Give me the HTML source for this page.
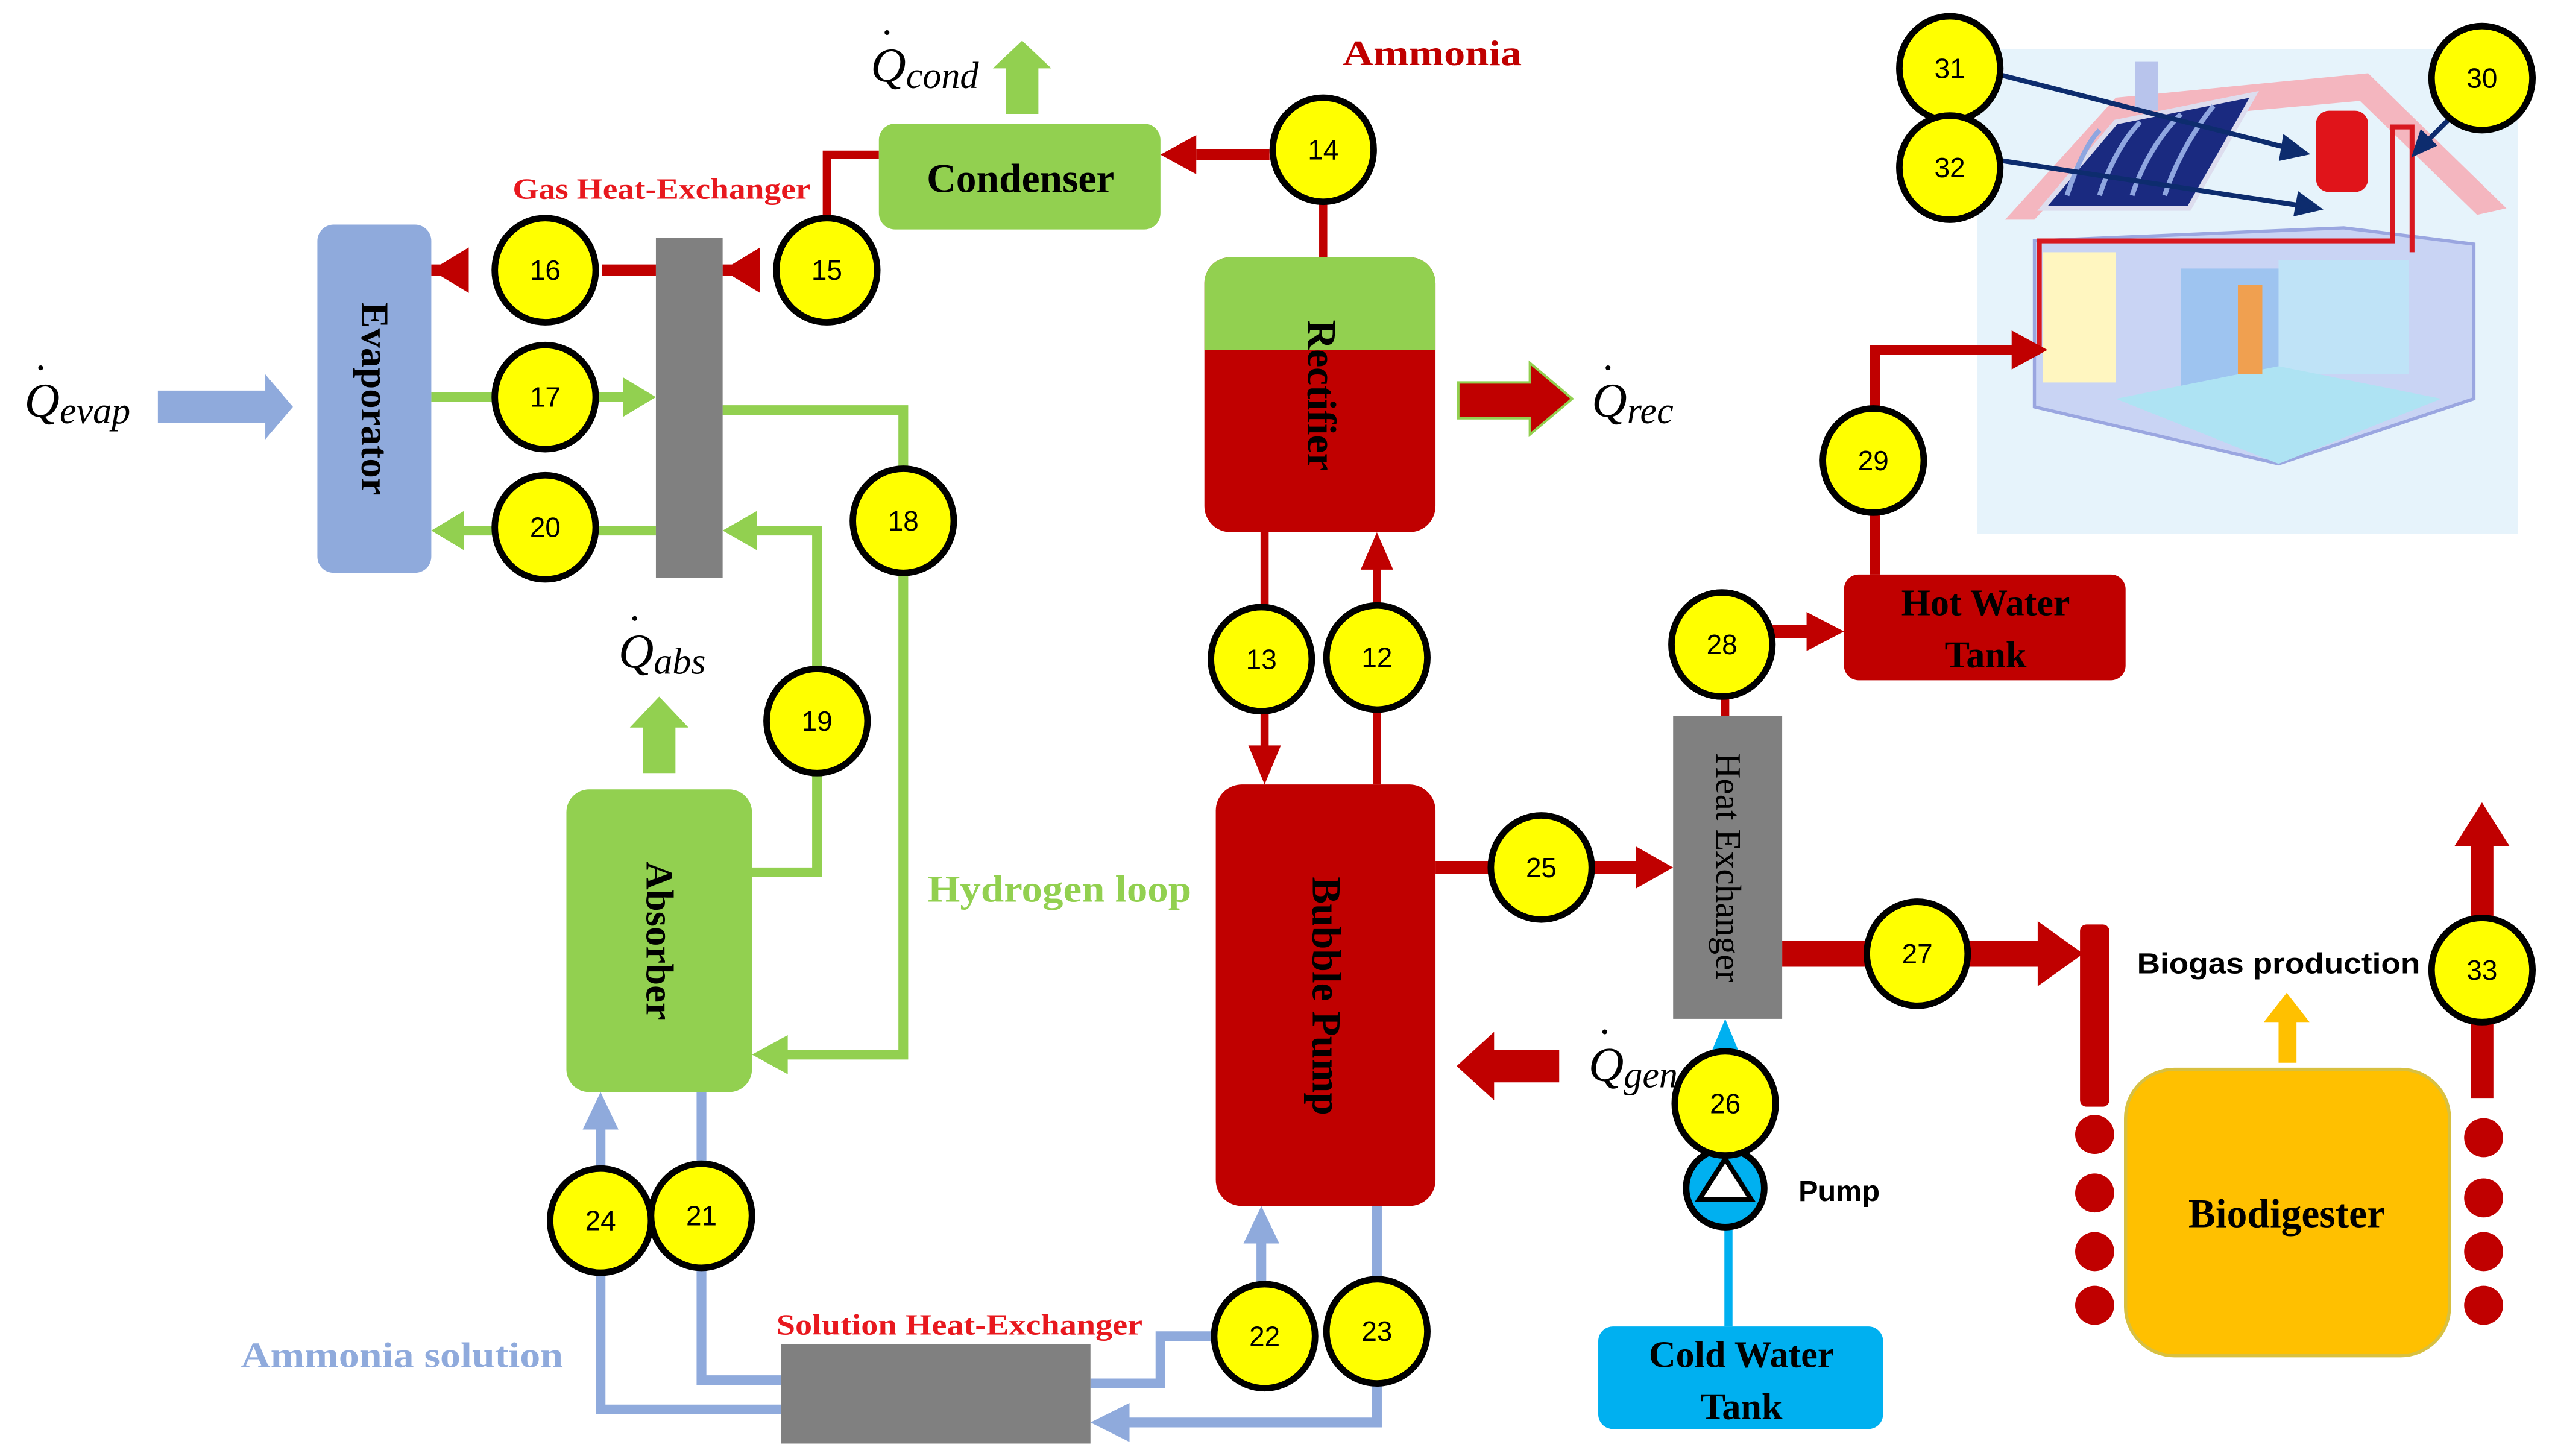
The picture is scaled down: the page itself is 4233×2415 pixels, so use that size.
<!DOCTYPE html>
<html><head><meta charset="utf-8"><style>
html,body{margin:0;padding:0;background:#fff}
svg{display:block}
.t{font-family:"Liberation Serif",serif}
.s{font-family:"Liberation Sans",sans-serif}
.n{font-family:"Liberation Sans",sans-serif;font-size:17px;text-anchor:middle;dominant-baseline:central}
</style></head><body>
<svg width="4233" height="2415" viewBox="0 0 1568 894.6" preserveAspectRatio="none" xmlns="http://www.w3.org/2000/svg">
<rect width="1568" height="895" fill="#fff"/>

<!-- House image -->
<rect x="1215" y="30" width="332" height="298" fill="#e6f3fb"/>
<polygon points="1232,135 1300,60 1455,45 1540,128 1522,132 1450,62 1305,75 1250,135" fill="#f4b6bf"/>
<rect x="1312" y="38" width="14" height="30" fill="#b8c4ec"/>
<polygon points="1255,128 1300,75 1385,58 1345,128" fill="#1a2a80" stroke="#dde" stroke-width="3"/>
<g stroke="#8fa6e0" stroke-width="3" fill="none"><path d="M1270,120 q10,-30 20,-40 M1290,120 q10,-30 25,-45 M1310,120 q10,-30 30,-50 M1330,120 q10,-30 30,-55"/></g>
<polygon points="1250,148 1250,250 1400,285 1520,245 1520,150 1440,140" fill="#c9d4f4" stroke="#9aa6e0" stroke-width="2"/>
<rect x="1255" y="155" width="45" height="80" fill="#fff6c0"/>
<rect x="1340" y="165" width="60" height="80" fill="#9ec4f0"/>
<rect x="1400" y="160" width="80" height="70" fill="#bfe3f7"/>
<polygon points="1300,245 1400,285 1500,245 1400,225" fill="#aee3f3"/>
<rect x="1423" y="68" width="32" height="50" rx="8" fill="#e0141a"/>
<polyline points="1253,215 1253,148 1470,148 1470,78 1482,78 1482,155" fill="none" stroke="#d81820" stroke-width="3"/>
<rect x="1375" y="175" width="15" height="55" fill="#f0a050"/>

<!-- dark blue arrows -->
<g stroke="#0d2c6e" stroke-width="3" fill="#0d2c6e">
<line x1="1225" y1="45" x2="1410" y2="92"/>
<polygon points="1416,94 1404,85 1402,97"/>
<line x1="1225" y1="98" x2="1418" y2="127"/>
<polygon points="1424,128 1413,120 1411,131"/>
<line x1="1508" y1="70" x2="1488" y2="90"/>
<polygon points="1484,94 1488,82 1495,89"/>
</g>

<!-- Title texts -->
<text x="825" y="40" class="t" font-size="22" fill="#c00000" font-weight="bold" textLength="110" lengthAdjust="spacingAndGlyphs">Ammonia</text>
<text x="315" y="122" class="t" font-size="18" fill="#e8181e" font-weight="bold" textLength="183" lengthAdjust="spacingAndGlyphs">Gas Heat-Exchanger</text>
<text x="570" y="554" class="t" font-size="23" fill="#92d050" font-weight="bold" textLength="162" lengthAdjust="spacingAndGlyphs">Hydrogen loop</text>
<text x="148" y="840" class="t" font-size="22" fill="#8faadc" font-weight="bold" textLength="198" lengthAdjust="spacingAndGlyphs">Ammonia solution</text>
<text x="477" y="820" class="t" font-size="18" fill="#e8181e" font-weight="bold" textLength="225" lengthAdjust="spacingAndGlyphs">Solution Heat-Exchanger</text>
<text x="1313" y="598" class="s" font-size="18" fill="#000" font-weight="bold" textLength="174" lengthAdjust="spacingAndGlyphs">Biogas production</text>
<text x="1105" y="738" class="s" font-size="18" fill="#000" font-weight="bold">Pump</text>

<!-- Q labels -->
<g class="t" font-style="italic" font-size="30" fill="#000">
<text x="535" y="50">Q<tspan font-size="23" dy="4">cond</tspan></text>
<text x="15" y="256">Q<tspan font-size="23" dy="4">evap</tspan></text>
<text x="380" y="410">Q<tspan font-size="23" dy="4">abs</tspan></text>
<text x="978" y="256">Q<tspan font-size="23" dy="4">rec</tspan></text>
<text x="976" y="664">Q<tspan font-size="23" dy="4">gen</tspan></text>
</g>
<g fill="#000"><circle cx="545" cy="20" r="1.5"/><circle cx="25" cy="226" r="1.5"/><circle cx="390" cy="380" r="1.5"/><circle cx="988" cy="226" r="1.5"/><circle cx="986" cy="634" r="1.5"/></g>

<!-- heat arrows -->
<polygon points="618,70 638,70 638,42 646,42 628,25 610,42 618,42" fill="#92d050"/>
<polygon points="97,240 163,240 163,230 180,250 163,270 163,260 97,260" fill="#8faadc"/>
<polygon points="395,475 415,475 415,447 423,447 405,428 387,447 395,447" fill="#92d050"/>
<polygon points="896,235 940,235 940,223 966,245 940,267 940,257 896,257" fill="#c00000" stroke="#92d050" stroke-width="1.5"/>
<polygon points="958,645 918,645 918,634 895,655 918,676 918,665 958,665" fill="#c00000"/>

<!-- red lines -->
<g stroke="#c00000" fill="none">
<line x1="780" y1="95" x2="735" y2="95" stroke-width="7"/>
<line x1="813" y1="124" x2="813" y2="160" stroke-width="5"/>
<polyline points="540,95 508,95 508,135" stroke-width="5"/>
<line x1="370" y1="166" x2="403" y2="166" stroke-width="7"/>
<line x1="444" y1="166" x2="465" y2="166" stroke-width="7"/>
<line x1="265" y1="166" x2="285" y2="166" stroke-width="7"/>
<line x1="777" y1="327" x2="777" y2="460" stroke-width="5"/>
<line x1="846" y1="482" x2="846" y2="345" stroke-width="5"/>
<line x1="882" y1="533" x2="1008" y2="533" stroke-width="8"/>
<line x1="1060" y1="440" x2="1060" y2="425" stroke-width="5"/>
<line x1="1088" y1="388" x2="1113" y2="388" stroke-width="8"/>
<polyline points="1152,353 1152,215 1238,215" stroke-width="6"/>
<line x1="1095" y1="586" x2="1255" y2="586" stroke-width="16"/>
<line x1="1525" y1="675" x2="1525" y2="520" stroke-width="14"/>
</g>
<g fill="#c00000">
<polygon points="713,95 735,83 735,107"/>
<polygon points="444,166 467,152 467,180"/>
<polygon points="265,166 288,152 288,180"/>
<polygon points="777,482 767,458 787,458"/>
<polygon points="846,327 836,350 856,350"/>
<polygon points="1028,533 1005,520 1005,546"/>
<polygon points="1133,388 1110,376 1110,400"/>
<polygon points="1258,215 1236,203 1236,227"/>
<polygon points="1280,586 1252,566 1252,606"/>
<polygon points="1525,493 1508,520 1542,520"/>
<rect x="1278" y="568" width="18" height="112" rx="4"/>
<ellipse cx="1287" cy="697" rx="12" ry="12"/><ellipse cx="1287" cy="733" rx="12" ry="12"/><ellipse cx="1287" cy="769" rx="12" ry="12"/><ellipse cx="1287" cy="802" rx="12" ry="12"/>
<ellipse cx="1526" cy="699" rx="12" ry="12"/><ellipse cx="1526" cy="736" rx="12" ry="12"/><ellipse cx="1526" cy="769" rx="12" ry="12"/><ellipse cx="1526" cy="802" rx="12" ry="12"/>
</g>
<polygon points="1400,653 1411,653 1411,628 1419,628 1405,610 1391,628 1400,628" fill="#ffc000"/>

<!-- green lines -->
<g stroke="#92d050" fill="none" stroke-width="6">
<line x1="265" y1="244" x2="305" y2="244"/>
<line x1="365" y1="244" x2="385" y2="244"/>
<polyline points="444,252 555,252 555,648 482,648"/>
<line x1="305" y1="326" x2="285" y2="326"/>
<line x1="403" y1="326" x2="365" y2="326"/>
<polyline points="502,470 502,326 465,326"/>
<polyline points="502,415 502,536 462,536"/>
</g>
<g fill="#92d050">
<polygon points="403,244 383,232 383,256"/>
<polygon points="265,326 285,314 285,338"/>
<polygon points="444,326 465,314 465,338"/>
<polygon points="462,648 484,636 484,660"/>
</g>

<!-- blue lines -->
<g stroke="#8faadc" fill="none" stroke-width="6">
<polyline points="369,720 369,692"/>
<polyline points="369,780 369,866 480,866"/>
<polyline points="431,671 431,720"/>
<polyline points="431,775 431,848 480,848"/>
<polyline points="670,850 713,850 713,821 748,821"/>
<line x1="775" y1="793" x2="775" y2="762"/>
<line x1="846" y1="741" x2="846" y2="790"/>
<polyline points="846,848 846,874 692,874"/>
</g>
<g fill="#8faadc">
<polygon points="369,671 358,694 380,694"/>
<polygon points="775,741 764,764 786,764"/>
<polygon points="670,874 694,862 694,886"/>
</g>
<line x1="1062" y1="755" x2="1062" y2="815" stroke="#00b0f0" stroke-width="5"/>
<polygon points="1060,626 1050,650 1070,650" fill="#00b0f0"/>

<!-- components -->
<rect x="540" y="76" width="173" height="65" rx="10" fill="#92d050"/>
<text x="627" y="118" class="t" font-size="25" font-weight="bold" text-anchor="middle">Condenser</text>
<rect x="195" y="138" width="70" height="214" rx="10" fill="#8faadc"/>
<text x="230" y="245" class="t" font-size="24" font-weight="bold" text-anchor="middle" dominant-baseline="central" transform="rotate(90 230 245)">Evaporator</text>
<rect x="403" y="146" width="41" height="209" fill="#808080"/>
<rect x="348" y="485" width="114" height="186" rx="14" fill="#92d050"/>
<text x="405" y="578" class="t" font-size="24" font-weight="bold" text-anchor="middle" dominant-baseline="central" transform="rotate(90 405 578)">Absorber</text>
<rect x="740" y="158" width="142" height="169" rx="16" fill="#c00000"/>
<path d="M740,215 V174 a16,16 0 0 1 16,-16 H866 a16,16 0 0 1 16,16 V215 Z" fill="#92d050"/>
<text x="812" y="243" class="t" font-size="25" font-weight="bold" text-anchor="middle" dominant-baseline="central" transform="rotate(90 812 243)">Rectifier</text>
<rect x="747" y="482" width="135" height="259" rx="16" fill="#c00000"/>
<text x="815" y="612" class="t" font-size="25" font-weight="bold" text-anchor="middle" dominant-baseline="central" transform="rotate(90 815 612)">Bubble Pump</text>
<rect x="1028" y="440" width="67" height="186" fill="#808080"/>
<text x="1062" y="533" class="t" font-size="22" text-anchor="middle" dominant-baseline="central" transform="rotate(90 1062 533)">Heat Exchanger</text>
<rect x="1133" y="353" width="173" height="65" rx="9" fill="#c00000"/>
<text x="1220" y="378" class="t" font-size="23" font-weight="bold" text-anchor="middle">Hot Water</text>
<text x="1220" y="410" class="t" font-size="23" font-weight="bold" text-anchor="middle">Tank</text>
<rect x="982" y="815" width="175" height="63" rx="9" fill="#00b0f0"/>
<text x="1070" y="840" class="t" font-size="23" font-weight="bold" text-anchor="middle">Cold Water</text>
<text x="1070" y="872" class="t" font-size="23" font-weight="bold" text-anchor="middle">Tank</text>
<rect x="1306" y="657" width="199" height="176" rx="30" fill="#ffc000" stroke="#d8c040" stroke-width="2"/>
<text x="1405" y="754" class="t" font-size="25" font-weight="bold" text-anchor="middle">Biodigester</text>
<rect x="480" y="826" width="190" height="61" fill="#808080"/>

<!-- pump -->
<circle cx="1060" cy="730" r="24" fill="#00b0f0" stroke="#000" stroke-width="4"/>
<polygon points="1060,712 1044,737 1076,737" fill="#fff" stroke="#000" stroke-width="3"/>

<!-- state circles -->
<g fill="#ffff00" stroke="#000" stroke-width="4">
<ellipse cx="813" cy="92" rx="31" ry="32"/>
<ellipse cx="335" cy="166" rx="31" ry="32"/>
<ellipse cx="508" cy="166" rx="31" ry="32"/>
<ellipse cx="335" cy="244" rx="31" ry="32"/>
<ellipse cx="335" cy="324" rx="31" ry="32"/>
<ellipse cx="555" cy="320" rx="31" ry="32"/>
<ellipse cx="502" cy="443" rx="31" ry="32"/>
<ellipse cx="775" cy="405" rx="31" ry="32"/>
<ellipse cx="846" cy="404" rx="31" ry="32"/>
<ellipse cx="947" cy="533" rx="31" ry="32"/>
<ellipse cx="1058" cy="396" rx="31" ry="32"/>
<ellipse cx="1151" cy="283" rx="31" ry="32"/>
<ellipse cx="1198" cy="42" rx="31" ry="32"/>
<ellipse cx="1198" cy="103" rx="31" ry="32"/>
<ellipse cx="1525" cy="48" rx="31" ry="32"/>
<ellipse cx="1178" cy="586" rx="31" ry="32"/>
<ellipse cx="1525" cy="596" rx="31" ry="32"/>
<ellipse cx="1060" cy="678" rx="31" ry="32"/>
<ellipse cx="369" cy="750" rx="31" ry="32"/>
<ellipse cx="431" cy="747" rx="31" ry="32"/>
<ellipse cx="777" cy="821" rx="31" ry="32"/>
<ellipse cx="846" cy="818" rx="31" ry="32"/>
</g>
<g>
<text x="813" y="92" class="n">14</text>
<text x="335" y="166" class="n">16</text>
<text x="508" y="166" class="n">15</text>
<text x="335" y="244" class="n">17</text>
<text x="335" y="324" class="n">20</text>
<text x="555" y="320" class="n">18</text>
<text x="502" y="443" class="n">19</text>
<text x="775" y="405" class="n">13</text>
<text x="846" y="404" class="n">12</text>
<text x="947" y="533" class="n">25</text>
<text x="1058" y="396" class="n">28</text>
<text x="1151" y="283" class="n">29</text>
<text x="1198" y="42" class="n">31</text>
<text x="1198" y="103" class="n">32</text>
<text x="1525" y="48" class="n">30</text>
<text x="1178" y="586" class="n">27</text>
<text x="1525" y="596" class="n">33</text>
<text x="1060" y="678" class="n">26</text>
<text x="369" y="750" class="n">24</text>
<text x="431" y="747" class="n">21</text>
<text x="777" y="821" class="n">22</text>
<text x="846" y="818" class="n">23</text>
</g>
</svg>
</body></html>
